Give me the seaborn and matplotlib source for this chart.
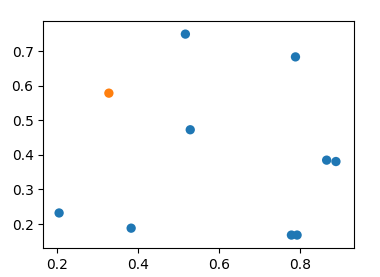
import matplotlib
matplotlib.use("Agg")
import matplotlib.pyplot as plt
import seaborn as sns
import pandas as pd

x_vals = [0.205, 0.328, 0.383, 0.517, 0.529, 0.789, 0.866, 0.889, 0.779, 0.793]
y_vals = [0.232, 0.579, 0.188, 0.750, 0.473, 0.684, 0.385, 0.381, 0.168, 0.168]
groups = ["normal", "highlight", "normal", "normal", "normal",
          "normal", "normal", "normal", "normal", "normal"]

df = pd.DataFrame({"x": x_vals, "y": y_vals, "group": groups})

fig = plt.figure(figsize=(3.8, 2.77), dpi=100)
ax = fig.add_axes([0.114, 0.104, 0.818, 0.819])
sns.scatterplot(data=df, x="x", y="y", hue="group",
                palette={"normal": "#1f77b4", "highlight": "#ff7f0e"},
                s=45, linewidth=0, legend=False, ax=ax)
ax.set_xlabel("")
ax.set_ylabel("")
ax.set_xticks([0.2, 0.4, 0.6, 0.8])
ax.set_yticks([0.2, 0.3, 0.4, 0.5, 0.6, 0.7])
ax.set_xlim(0.166, 0.934)
ax.set_ylim(0.130, 0.787)
fig.savefig("out.png", dpi=100)
